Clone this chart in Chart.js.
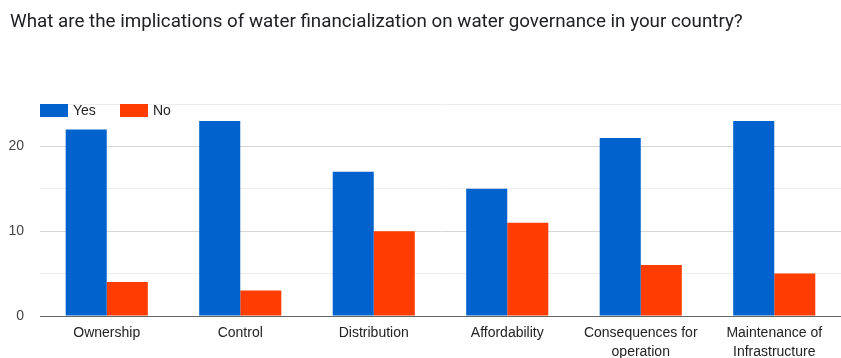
<!DOCTYPE html>
<html>
<head>
<meta charset="utf-8">
<script src="https://cdn.jsdelivr.net/npm/chart.js@4.4.0/dist/chart.umd.min.js"></script>
<style>
  html, body { margin: 0; padding: 0; background: #fff; }
  #wrap { position: relative; width: 841px; height: 358px; }
</style>
</head>
<body>
<div id="wrap"><canvas id="chart" width="841" height="358"></canvas></div>
<script>
// === Data ===
const categories = [
  'Ownership',
  'Control',
  'Distribution',
  'Affordability',
  ['Consequences for', 'operation'],
  ['Maintenance of', 'Infrastructure']
];
const yesValues = [22, 23, 17, 15, 21, 23];
const noValues = [4, 3, 10, 11, 6, 5];
const yTicks = [0, 10, 20];
const chartTitle = 'What are the implications of water financialization on water governance in your country?';

const labelFont = '"Liberation Sans", Arial, sans-serif';

// title + legend drawn by hand, legend sits inside the plot area like the original
const headerPlugin = {
  id: 'headerPlugin',
  afterDraw(chart) {
    const ctx = chart.ctx;
    const area = chart.chartArea;
    ctx.save();
    ctx.textBaseline = 'middle';
    ctx.font = '18.8px Roboto, "Noto Sans", sans-serif';
    ctx.fillStyle = '#202124';
    ctx.fillText(chartTitle, 10, 22);

    let x = area.left;
    const y = area.top;
    ctx.font = '14px ' + labelFont;
    chart.data.datasets.forEach(ds => {
      ctx.fillStyle = ds.backgroundColor;
      ctx.fillRect(x, y, 28, 13);
      ctx.fillStyle = '#222';
      ctx.fillText(ds.label, x + 33, y + 7);
      x += 80;
    });
    ctx.restore();
  }
};

new Chart(document.getElementById('chart'), {
  type: 'bar',
  data: {
    labels: categories,
    datasets: [
      { label: 'Yes', data: yesValues, backgroundColor: '#0062cc', borderWidth: 0 },
      { label: 'No', data: noValues, backgroundColor: '#ff3d00', borderWidth: 0 }
    ]
  },
  options: {
    responsive: false,
    animation: false,
    layout: { padding: { left: 0, right: 0, top: 104, bottom: 0 } },
    datasets: { bar: { categoryPercentage: 0.615, barPercentage: 1 } },
    plugins: {
      legend: { display: false },
      tooltip: { enabled: false },
      title: { display: false }
    },
    scales: {
      x: {
        grid: { display: false, drawTicks: false },
        border: { display: true, color: '#666', width: 1 },
        ticks: {
          color: '#222',
          font: { family: labelFont, size: 14, lineHeight: 1.36 },
          padding: 8,
          autoSkip: false,
          maxRotation: 0,
          minRotation: 0
        },
        afterFit(scale) { scale.height = 42; }
      },
      y: {
        min: 0,
        max: 25,
        border: { display: false },
        grid: {
          drawTicks: false,
          color: ctx => ctx.tick.value === 0 ? '#666' : (yTicks.includes(ctx.tick.value) ? '#d6d6d6' : '#ededed')
        },
        ticks: {
          stepSize: 5,
          padding: 16,
          color: '#444',
          font: { family: labelFont, size: 14 },
          callback: v => yTicks.includes(v) ? v : ''
        },
        afterFit(scale) { scale.width = 40; }
      }
    }
  },
  plugins: [headerPlugin]
});
</script>
</body>
</html>
